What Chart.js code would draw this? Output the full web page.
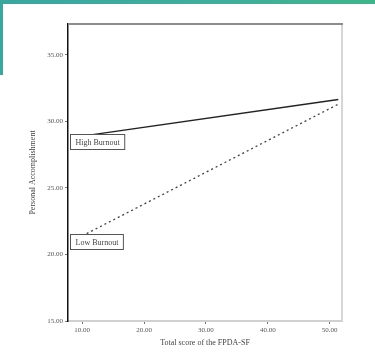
<!DOCTYPE html>
<html>
<head>
<meta charset="utf-8">
<script src="https://cdn.jsdelivr.net/npm/chart.js@4/dist/chart.umd.min.js"></script>
<style>
    html, body { margin: 0; padding: 0; background: #ffffff; }
    #wrap { position: relative; width: 375px; height: 354px; overflow: hidden; }
    .band-top { position: absolute; left: 0; top: 0; width: 375px; height: 4px;
        background: linear-gradient(90deg, #3aa79f 0%, #41ad9c 60%, #3fb58a 100%); }
    .band-left { position: absolute; left: 0; top: 0; width: 3px; height: 75px; background: #3aa79f; }
    canvas { position: absolute; left: 0; top: 0; }
</style>
</head>
<body>
<div id="wrap">
    <canvas id="chart" width="375" height="354"></canvas>
    <div class="band-top"></div>
    <div class="band-left"></div>
</div>
<script>
// données
const xScores = [10, 51.4];
const highBurnout = [28.9, 31.65];
const lowBurnout = [21.4, 31.3];
const seriesLabels = ['High Burnout', 'Low Burnout'];
const yTicks = [15, 20, 25, 30, 35];
const xTicks = [10, 20, 30, 40, 50];

const serif = '"Liberation Serif", "DejaVu Serif", serif';

const toPoints = (ys) => xScores.map((x, i) => ({ x: x, y: ys[i] }));

// cadre du graphique (haut gris, droite gris clair)
const framePlugin = {
    id: 'frame',
    beforeDatasetsDraw(chart) {
        const { ctx, chartArea: a } = chart;
        ctx.save();
        ctx.strokeStyle = '#d6d6d6';
        ctx.lineWidth = 2;
        ctx.beginPath();
        ctx.moveTo(a.right, a.top);
        ctx.lineTo(a.right, a.bottom);
        ctx.stroke();
        ctx.strokeStyle = '#8c8c8c';
        ctx.beginPath();
        ctx.moveTo(a.left, a.top);
        ctx.lineTo(a.right + 1, a.top);
        ctx.stroke();
        ctx.restore();
    }
};

// étiquettes encadrées au début de chaque ligne
const boxLabels = {
    id: 'boxLabels',
    afterDatasetsDraw(chart) {
        const { ctx, chartArea: a } = chart;
        ctx.save();
        ctx.font = '8px ' + serif;
        ctx.textBaseline = 'middle';
        chart.data.datasets.forEach((ds, i) => {
            const pt = chart.getDatasetMeta(i).data[0];
            const top = Math.round(pt.y) - 1.5;
            const w = ctx.measureText(ds.label).width + 10;
            const x = a.left + 2.5;
            ctx.fillStyle = '#ffffff';
            ctx.fillRect(x, top, w, 15);
            ctx.strokeStyle = '#555555';
            ctx.lineWidth = 1;
            ctx.strokeRect(x, top, w, 15);
            ctx.fillStyle = '#444444';
            ctx.fillText(ds.label, x + 5, top + 8);
        });
        ctx.restore();
    }
};

new Chart(document.getElementById('chart'), {
    type: 'scatter',
    data: {
        datasets: [{
            label: seriesLabels[0],
            data: toPoints(highBurnout),
            showLine: true,
            borderColor: '#222222',
            borderWidth: 1.5,
            pointRadius: 0,
            tension: 0
        }, {
            label: seriesLabels[1],
            data: toPoints(lowBurnout),
            showLine: true,
            borderColor: '#444444',
            borderWidth: 1.3,
            borderDash: [2, 3],
            pointRadius: 0,
            tension: 0
        }]
    },
    options: {
        responsive: false,
        animation: false,
        layout: { padding: { top: 24, right: 33, left: 0, bottom: 0 } },
        plugins: {
            legend: { display: false },
            tooltip: { enabled: false }
        },
        scales: {
            x: {
                type: 'linear',
                min: 7.7,
                max: 52,
                afterFit: (s) => { s.height = 33; },
                afterBuildTicks: (s) => { s.ticks = xTicks.map(v => ({ value: v })); },
                grid: { drawOnChartArea: false, drawTicks: true, tickLength: 3, color: '#777777' },
                border: { color: '#d0d0d0', width: 2 },
                ticks: {
                    color: '#555555',
                    font: { family: serif, size: 7 },
                    padding: 2,
                    maxRotation: 0,
                    callback: (v) => Number(v).toFixed(2)
                },
                title: {
                    display: true,
                    text: 'Total score of the FPDA-SF',
                    color: '#444444',
                    font: { family: serif, size: 8 },
                    padding: { top: 0, bottom: 6 }
                }
            },
            y: {
                type: 'linear',
                min: 15,
                max: 37.33,
                afterFit: (s) => { s.width = 68; },
                afterBuildTicks: (s) => { s.ticks = yTicks.map(v => ({ value: v })); },
                grid: { drawOnChartArea: false, drawTicks: true, tickLength: 3, color: '#777777' },
                border: { color: '#111111', width: 1.5 },
                ticks: {
                    color: '#555555',
                    font: { family: serif, size: 7 },
                    padding: 2,
                    callback: (v) => Number(v).toFixed(2)
                },
                title: {
                    display: true,
                    text: 'Personal Accomplishment',
                    color: '#444444',
                    font: { family: serif, size: 8 },
                    padding: { top: 28, bottom: 0 }
                }
            }
        }
    },
    plugins: [framePlugin, boxLabels]
});
</script>
</body>
</html>
